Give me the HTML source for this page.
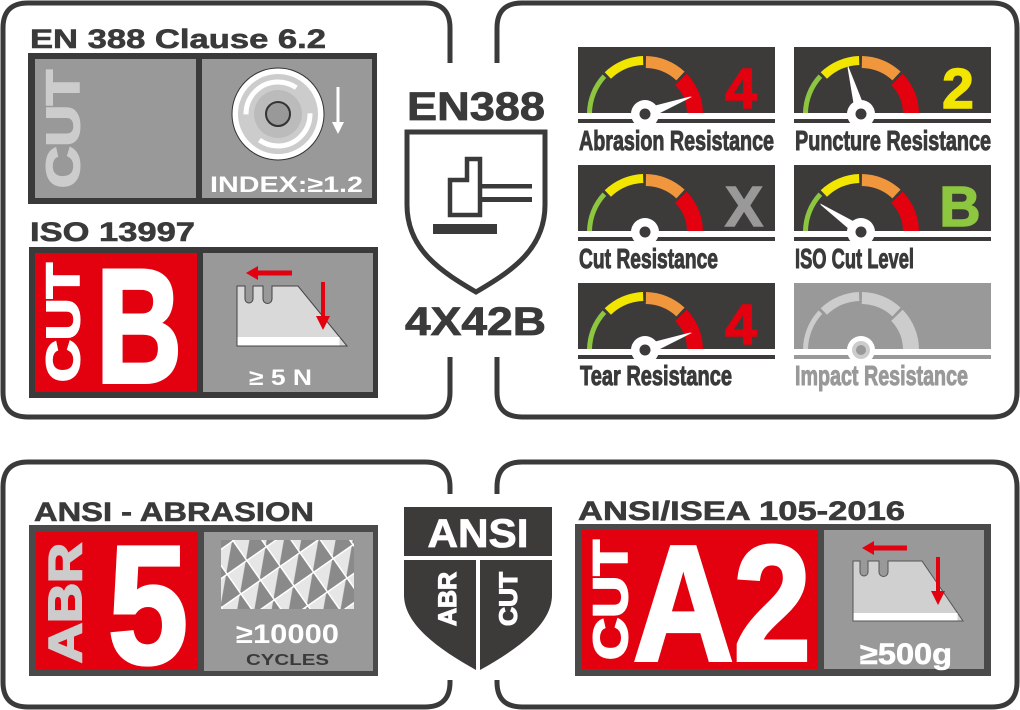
<!DOCTYPE html>
<html><head><meta charset="utf-8"><style>
html,body{margin:0;padding:0;background:#fff;width:1020px;height:710px;overflow:hidden}
svg{display:block}
.b{font-family:"Liberation Sans",sans-serif;font-weight:bold}
.n{font-family:"Liberation Sans Narrow","Liberation Sans",sans-serif;font-weight:bold}
</style></head><body>
<svg width="1020" height="710" viewBox="0 0 1020 710" xmlns="http://www.w3.org/2000/svg">
<defs>
<clipPath id="gc"><rect x="0" y="0" width="197" height="66"/></clipPath>
<g id="gauge">
<rect x="0" y="0" width="197" height="66" fill="#3d3a3a"/>
<rect x="0" y="72" width="197" height="4" fill="#3d3a3a"/>
<g clip-path="url(#gc)" fill="none">
<circle cx="67" cy="67" r="55.5" stroke="#8dc63f" stroke-width="5" stroke-dasharray="41.6 400" transform="rotate(-180 67 67)"/>
<circle cx="67" cy="67" r="53.5" stroke="#f2e600" stroke-width="9" stroke-dasharray="39.2 400" transform="rotate(-134 67 67)"/>
<circle cx="67" cy="67" r="52" stroke="#f0963c" stroke-width="12" stroke-dasharray="38.1 400" transform="rotate(-89 67 67)"/>
<circle cx="67" cy="67" r="50" stroke="#e3000f" stroke-width="16" stroke-dasharray="38.4 400" transform="rotate(-44 67 67)"/>
</g>
<circle cx="67" cy="67" r="14" fill="#fff"/>
<circle cx="67" cy="67" r="5.5" fill="#3d3a3a"/>
</g>
<g id="gaugeI">
<rect x="0" y="0" width="197" height="66" fill="#999"/>
<rect x="0" y="72" width="197" height="4" fill="#999"/>
<g clip-path="url(#gc)" fill="none">
<circle cx="67" cy="67" r="55.5" stroke="#ccc" stroke-width="5" stroke-dasharray="41.6 400" transform="rotate(-180 67 67)"/>
<circle cx="67" cy="67" r="53.5" stroke="#ccc" stroke-width="9" stroke-dasharray="39.2 400" transform="rotate(-134 67 67)"/>
<circle cx="67" cy="67" r="52" stroke="#ccc" stroke-width="12" stroke-dasharray="38.1 400" transform="rotate(-89 67 67)"/>
<circle cx="67" cy="67" r="50" stroke="#ccc" stroke-width="16" stroke-dasharray="38.4 400" transform="rotate(-44 67 67)"/>
</g>
<circle cx="67" cy="67" r="14" fill="#fff"/>
<circle cx="67" cy="67" r="9" fill="#ccc"/>
<circle cx="67" cy="67" r="5" fill="#999"/>
</g>
<pattern id="mesh" patternUnits="userSpaceOnUse" width="24" height="24" patternTransform="rotate(-35)">
<rect width="24" height="24" fill="#8a8a8a"/>
<polygon points="0,0 24,0 0,24" fill="#e6e6e6"/>
<path d="M0,0H24M0,0V24" stroke="#fff" stroke-width="3"/>
</pattern>
</defs>

<g fill="none" stroke="#3a3a3a" stroke-width="5">
<path d="M450,63 V28 Q450,3 425,3 H28 Q3,3 3,28 V392 Q3,417 28,417 H425 Q450,417 450,392 V357"/>
<path d="M497,63 V28 Q497,3 522,3 H992 Q1017,3 1017,28 V392 Q1017,417 992,417 H522 Q497,417 497,392 V357"/>
<path d="M450,494 V487 Q450,462 425,462 H28 Q3,462 3,487 V682 Q3,707 28,707 H425 Q450,707 450,682 V680"/>
<path d="M497,494 V487 Q497,462 522,462 H992 Q1017,462 1017,487 V682 Q1017,707 992,707 H522 Q497,707 497,682 V680"/>
</g>

<text x="30" y="48" class="b" font-size="27" fill="#3a3a3a" stroke="#3a3a3a" stroke-width="0.6" textLength="296" lengthAdjust="spacingAndGlyphs">EN 388 Clause 6.2</text>
<rect x="28" y="53" width="349" height="151" fill="#3a3a3a"/>
<rect x="35" y="59" width="161" height="139" fill="#999"/>
<rect x="202" y="59" width="170" height="139" fill="#999"/>
<text transform="translate(79,188) rotate(-90)" class="b" font-size="46" fill="#ccc" stroke="#ccc" stroke-width="2" textLength="118" lengthAdjust="spacingAndGlyphs">CUT</text>
<circle cx="278" cy="114" r="46" fill="#fff" stroke="#333" stroke-width="1"/>
<circle cx="278" cy="114" r="40" fill="#ccc"/>
<circle cx="278" cy="114" r="32" fill="none" stroke="#fff" stroke-width="5" stroke-dasharray="70 30"/>
<circle cx="278" cy="114" r="24" fill="#bbb"/>
<circle cx="278" cy="114" r="12" fill="#999" stroke="#333" stroke-width="2"/>
<line x1="338" y1="87" x2="338" y2="124" stroke="#fff" stroke-width="3"/>
<polygon points="332,122 344,122 338,134" fill="#fff"/>
<text x="210" y="192" class="b" font-size="22" fill="#fff" textLength="153" lengthAdjust="spacingAndGlyphs">INDEX:≥1.2</text>

<text x="30" y="241" class="b" font-size="27" fill="#3a3a3a" stroke="#3a3a3a" stroke-width="0.6" textLength="165" lengthAdjust="spacingAndGlyphs">ISO 13997</text>
<rect x="29" y="247" width="349" height="151" fill="#3a3a3a"/>
<rect x="35" y="253" width="162" height="139" fill="#e3000f"/>
<rect x="203" y="253" width="170" height="139" fill="#999"/>
<text transform="translate(79,382) rotate(-90)" class="b" font-size="46" fill="#fff" stroke="#fff" stroke-width="2" textLength="119" lengthAdjust="spacingAndGlyphs">CUT</text>
<text x="96" y="382" class="b" font-size="162" fill="#fff" stroke="#fff" stroke-width="4" textLength="86" lengthAdjust="spacingAndGlyphs">B</text>
<path d="M237,286 H245 V299 A4,4 0 0 0 253,299 V286 H263 V299 A4,4 0 0 0 272,299 V286 H298 L347,346 H237 Z" fill="#d9d9d9" stroke="#444" stroke-width="1"/>
<rect x="237.5" y="337" width="102" height="8.5" fill="#fff"/>
<line x1="292" y1="273" x2="256" y2="273" stroke="#e3000f" stroke-width="5"/>
<polygon points="258,266 258,280 246,273" fill="#e3000f"/>
<line x1="323" y1="282" x2="323" y2="318" stroke="#e3000f" stroke-width="4"/>
<polygon points="316,316 330,316 323,330" fill="#e3000f"/>
<text x="249" y="385" class="b" font-size="22" fill="#fff" textLength="63" lengthAdjust="spacingAndGlyphs">≥ 5 N</text>

<text x="407" y="120" class="b" font-size="40" fill="#3a3a3a" stroke="#3a3a3a" stroke-width="0.8" textLength="138" lengthAdjust="spacingAndGlyphs">EN388</text>
<path d="M407,132 H545 V205 C545,250 510,272 476,292 C442,272 407,250 407,205 Z" fill="#fff" stroke="#3a3a3a" stroke-width="5"/>
<path d="M450,180 H467 V159 H480 V215 H450 Z" fill="none" stroke="#3a3a3a" stroke-width="4.5"/>
<rect x="482" y="184" width="50" height="4.5" fill="#3a3a3a"/>
<rect x="482" y="197" width="50" height="5" fill="#3a3a3a"/>
<rect x="433" y="224" width="64" height="10" fill="#3a3a3a"/>
<text x="405" y="335" class="b" font-size="40" fill="#3a3a3a" stroke="#3a3a3a" stroke-width="0.8" textLength="141" lengthAdjust="spacingAndGlyphs">4X42B</text>

<use href="#gauge" x="578" y="47"/>
<use href="#gauge" x="794" y="47"/>
<use href="#gauge" x="578" y="165"/>
<use href="#gauge" x="794" y="165"/>
<use href="#gauge" x="578" y="283"/>
<use href="#gaugeI" x="794" y="283"/>
<g fill="#fff">
<polygon points="12,-4.5 48,-1 50,0 12,4.5" transform="translate(645,114) rotate(-20)"/>
<polygon points="12,-4.5 48,-1 50,0 12,4.5" transform="translate(861,114) rotate(-105)"/>
<polygon points="12,-4.5 48,-1 50,0 12,4.5" transform="translate(861,232) rotate(-145)"/>
<polygon points="12,-4.5 48,-1 50,0 12,4.5" transform="translate(645,350) rotate(-20)"/>
</g>
<g class="b" font-size="57" text-anchor="middle" stroke-width="1.5">
<text x="741" y="108" fill="#e3000f" stroke="#e3000f">4</text>
<text x="958" y="108" fill="#f2e600" stroke="#f2e600">2</text>
<text x="744" y="226" fill="#999" stroke="#999">X</text>
<text x="960" y="226" fill="#8dc63f" stroke="#8dc63f">B</text>
<text x="741" y="344" fill="#e3000f" stroke="#e3000f">4</text>
</g>
<g class="n" font-size="28" fill="#3a3a3a" stroke="#3a3a3a" stroke-width="1">
<text x="579" y="150" textLength="195" lengthAdjust="spacingAndGlyphs">Abrasion Resistance</text>
<text x="795" y="150" textLength="196" lengthAdjust="spacingAndGlyphs">Puncture Resistance</text>
<text x="579" y="268" textLength="139" lengthAdjust="spacingAndGlyphs">Cut Resistance</text>
<text x="795" y="268" textLength="119" lengthAdjust="spacingAndGlyphs">ISO Cut Level</text>
<text x="580" y="385" textLength="152" lengthAdjust="spacingAndGlyphs">Tear Resistance</text>
<text x="795" y="385" textLength="173" lengthAdjust="spacingAndGlyphs" fill="#999" stroke="#999">Impact Resistance</text>
</g>

<text x="34" y="521" class="b" font-size="27" fill="#3a3a3a" stroke="#3a3a3a" stroke-width="0.6" textLength="280" lengthAdjust="spacingAndGlyphs">ANSI - ABRASION</text>
<rect x="29" y="525" width="349" height="151" fill="#4a4a4a"/>
<rect x="36" y="532" width="162" height="138" fill="#e3000f"/>
<rect x="204" y="532" width="169" height="139" fill="#999"/>
<text transform="translate(81,663) rotate(-90)" class="b" font-size="46" fill="#ccc" stroke="#ccc" stroke-width="2" textLength="120" lengthAdjust="spacingAndGlyphs">ABR</text>
<text x="108" y="663" class="b" font-size="168" fill="#fff" stroke="#fff" stroke-width="4" textLength="80" lengthAdjust="spacingAndGlyphs">5</text>
<rect x="221" y="540" width="133" height="69" fill="url(#mesh)"/>
<text x="236" y="643" class="b" font-size="27" fill="#fff" textLength="103" lengthAdjust="spacingAndGlyphs">≥10000</text>
<text x="246" y="665" class="b" font-size="16" fill="#3a3a3a" textLength="83" lengthAdjust="spacingAndGlyphs">CYCLES</text>

<rect x="404" y="507" width="148" height="49" fill="#3d3a3a"/>
<text x="478" y="547" class="b" font-size="40" fill="#fff" stroke="#fff" stroke-width="0.8" text-anchor="middle" textLength="101" lengthAdjust="spacingAndGlyphs">ANSI</text>
<path d="M404,560 H476 V670 C440,650 404,625 404,595 Z" fill="#3d3a3a"/>
<path d="M480,560 H552 V595 C552,625 516,650 480,670 Z" fill="#3d3a3a"/>
<text transform="translate(456,626) rotate(-90)" class="b" font-size="25" fill="#fff" stroke="#fff" stroke-width="1.2" textLength="54" lengthAdjust="spacingAndGlyphs">ABR</text>
<text transform="translate(517,626) rotate(-90)" class="b" font-size="25" fill="#fff" stroke="#fff" stroke-width="1.2" textLength="54" lengthAdjust="spacingAndGlyphs">CUT</text>

<text x="578" y="520" class="b" font-size="27" fill="#3a3a3a" stroke="#3a3a3a" stroke-width="0.6" textLength="327" lengthAdjust="spacingAndGlyphs">ANSI/ISEA 105-2016</text>
<rect x="575" y="524" width="416" height="152" fill="#4a4a4a"/>
<rect x="582" y="530" width="236" height="139" fill="#e3000f"/>
<rect x="824" y="530" width="160" height="139" fill="#999"/>
<text transform="translate(627,660) rotate(-90)" class="b" font-size="48" fill="#fff" stroke="#fff" stroke-width="2" textLength="120" lengthAdjust="spacingAndGlyphs">CUT</text>
<text x="633" y="660" class="b" font-size="164" fill="#fff" stroke="#fff" stroke-width="4" textLength="178" lengthAdjust="spacingAndGlyphs">A2</text>
<path d="M853,561 H860 V572 A4,4 0 0 0 868,572 V561 H879 V572 A4.5,4.5 0 0 0 888,572 V561 H922 L963,621 H853 Z" fill="#d0d0d0" stroke="#555" stroke-width="1"/>
<rect x="853.5" y="613" width="104" height="7.5" fill="#fff"/>
<line x1="907" y1="548" x2="872" y2="548" stroke="#e3000f" stroke-width="5"/>
<polygon points="874,541 874,555 862,548" fill="#e3000f"/>
<line x1="938" y1="557" x2="938" y2="593" stroke="#e3000f" stroke-width="4"/>
<polygon points="931,591 945,591 938,605" fill="#e3000f"/>
<text x="860" y="664" class="b" font-size="30" fill="#fff" stroke="#fff" stroke-width="0.6" textLength="92" lengthAdjust="spacingAndGlyphs">≥500g</text>
</svg>
</body></html>
